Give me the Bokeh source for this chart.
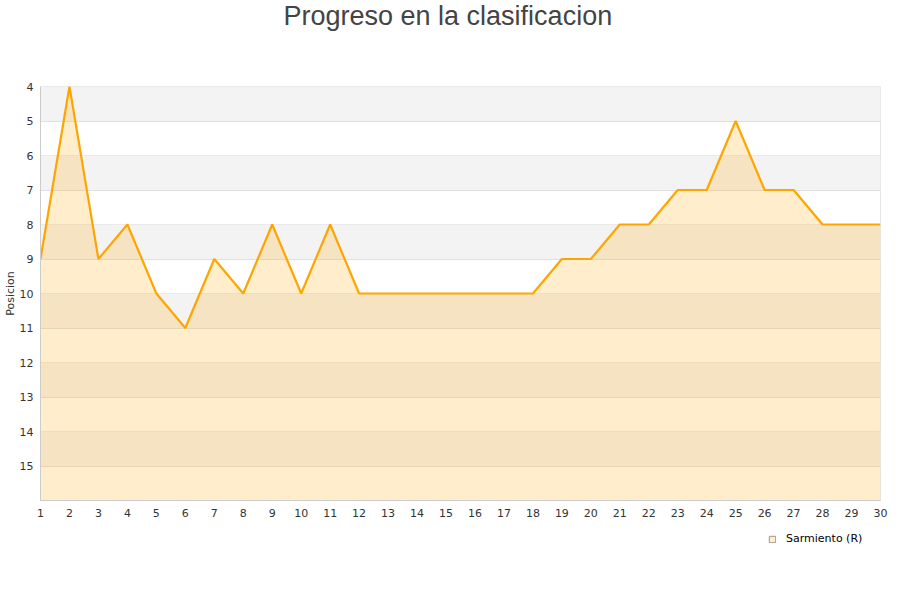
from bokeh.plotting import figure
from bokeh.layouts import column
from bokeh.models import Range1d, FixedTicker, BoxAnnotation, Legend, LegendItem
from bokeh.embed import file_html
from bokeh.resources import INLINE

jornadas = list(range(1, 31))
posiciones = [9, 4, 9, 8, 10, 11, 9, 10, 8, 10, 8, 10, 10, 10, 10, 10, 10, 10,
              9, 9, 8, 8, 7, 7, 5, 7, 7, 8, 8, 8]
y_ticks = list(range(4, 16))
equipo = "Sarmiento (R)"
titulo = "Progreso en la clasificacion"
fondo = [16] * len(jornadas)

# title strip
t = figure(width=892, height=40, output_backend="svg", toolbar_location=None,
           x_axis_type=None, y_axis_type=None, min_border=0,
           x_range=Range1d(1, 30), y_range=Range1d(16, 4))
t.outline_line_color = None
t.xgrid.visible = False
t.ygrid.visible = False
t.title.text = titulo
t.title.align = "left"
t.title.offset = 243
t.title.vertical_align = "top"
t.title.standoff = 0
t.title.text_font = "Liberation Sans"
t.title.text_font_size = "27px"
t.title.text_font_style = "normal"
t.title.text_color = "#444444"

p = figure(width=892, height=482, output_backend="svg", toolbar_location=None,
           x_range=Range1d(1, 30), y_range=Range1d(16, 4),
           min_border_left=40, min_border_right=12, min_border_top=46, min_border_bottom=22)

for b in range(4, 16, 2):
    p.add_layout(BoxAnnotation(bottom=b, top=b + 1, fill_color="#f3f3f3", fill_alpha=1.0,
                               line_alpha=0, level="underlay"))

p.varea(x=jornadas, y1=posiciones, y2=fondo, fill_color="#ffa500", fill_alpha=0.2)
p.line(x=jornadas, y=posiciones, line_color="#ffa500", line_width=2.2)

p.xgrid.visible = False
p.ygrid.ticker = FixedTicker(ticks=list(range(4, 17)))
p.ygrid.grid_line_color = "#e0e0e0"
p.ygrid.level = "underlay"

p.xaxis.ticker = FixedTicker(ticks=jornadas)
p.yaxis.ticker = FixedTicker(ticks=y_ticks)
for ax in (p.xaxis[0], p.yaxis[0]):
    ax.axis_line_color = "#cccccc"
    ax.major_tick_line_color = None
    ax.minor_tick_line_color = None
    ax.major_tick_out = 0
    ax.major_tick_in = 0
    ax.minor_tick_out = 0
    ax.minor_tick_in = 0
    ax.major_label_text_font = "DejaVu Sans"
    ax.major_label_text_font_size = "11px"
    ax.major_label_text_color = "#333333"
p.xaxis.major_label_standoff = 8
p.yaxis.major_label_standoff = 7
p.yaxis.axis_label = "Posicion"
p.yaxis.axis_label_text_font = "DejaVu Sans"
p.yaxis.axis_label_text_font_size = "11px"
p.yaxis.axis_label_text_font_style = "normal"
p.yaxis.axis_label_text_color = "#333333"
p.yaxis.axis_label_standoff = 0

p.outline_line_color = "#e6e6e6"
p.background_fill_color = "white"
p.border_fill_color = "white"

# legend strip below the chart
q = figure(width=892, height=70, output_backend="svg", toolbar_location=None,
           x_axis_type=None, y_axis_type=None, min_border=0,
           x_range=Range1d(1, 30), y_range=Range1d(16, 4))
q.outline_line_color = None
q.xgrid.visible = False
q.ygrid.visible = False
proxy = q.patch(x=jornadas, y=posiciones, fill_color="#ffedcc", line_color="#a0968a",
                line_width=1)
proxy.visible = False
legend = Legend(items=[LegendItem(label=equipo, renderers=[proxy])],
                location=(728, 47), background_fill_alpha=0, border_line_alpha=0,
                label_text_font="DejaVu Sans", label_text_font_size="11px",
                label_text_color="#000000",
                glyph_width=8, glyph_height=8, label_height=12, padding=0, margin=0,
                label_standoff=10)
q.add_layout(legend)

layout = column(t, p, q, spacing=0)
open("out.html", "w").write(file_html(layout, INLINE))
